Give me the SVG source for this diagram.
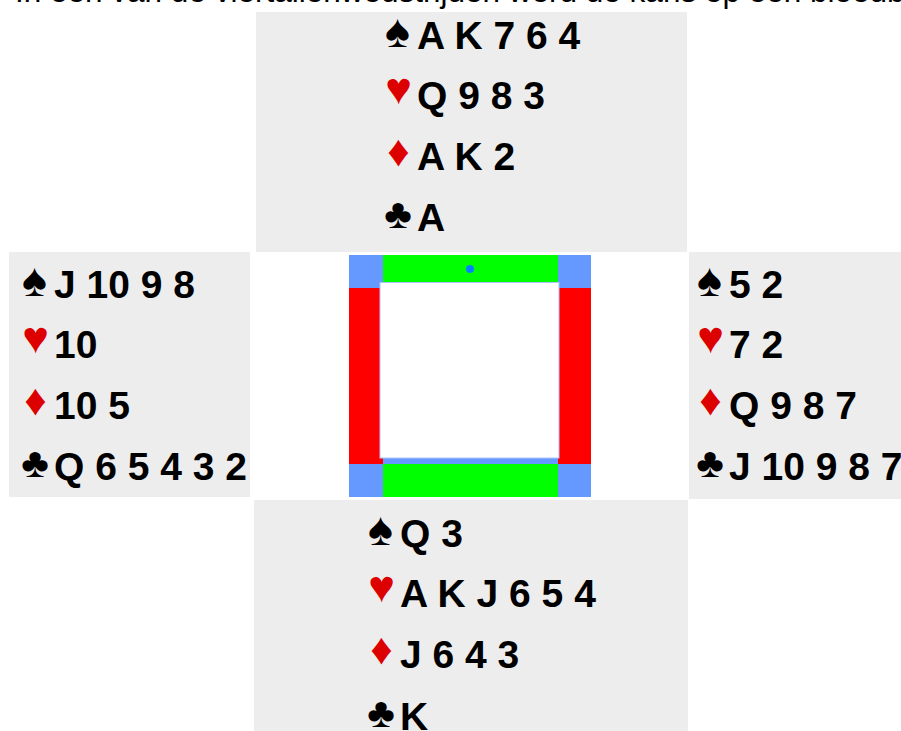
<svg xmlns="http://www.w3.org/2000/svg" width="901" height="731" viewBox="0 0 901 731">
<style>
.p{fill:#ededed}
.t{font-family:"Liberation Sans",Arial,sans-serif;font-weight:bold;font-size:39px;fill:#000}
.s{font-family:"Liberation Sans",Arial,sans-serif;text-anchor:middle}
.sp{font-size:47px}.he{font-size:45px}.di{font-size:44px}.cl{font-size:42px}
.k{fill:#000}.r{fill:#dd0000}
.b{fill:#6699ff}.g{fill:#00ff00}.d{fill:#ff0000}
</style>
<rect width="901" height="731" fill="#fff"/>
<text id="intro" x="15" y="2" font-family="Liberation Sans,Arial,sans-serif" font-size="31.5" fill="#000">In een van de viertallenwedstrijden werd de kans op een bloedb</text>
<g id="north">
<rect class="p" x="256" y="12" width="431" height="240"/>
<text class="s sp k" x="397.5" y="47">♠</text><text class="t" x="417" y="49">A K 7 6 4</text>
<text class="s he r" x="398.5" y="104">♥</text><text class="t" x="417" y="109">Q 9 8 3</text>
<text class="s di r" x="398.5" y="165.5">♦</text><text class="t" x="417" y="170">A K 2</text>
<text class="s cl k" x="398" y="227.5">♣</text><text class="t" x="417" y="231">A</text>
</g>
<g id="west">
<rect class="p" x="9" y="252" width="241" height="245"/>
<text class="s sp k" x="34.5" y="296">♠</text><text class="t" x="54" y="298">J 10 9 8</text>
<text class="s he r" x="35.5" y="353">♥</text><text class="t" x="54" y="358">10</text>
<text class="s di r" x="35.5" y="414.5">♦</text><text class="t" x="54" y="419">10 5</text>
<text class="s cl k" x="35" y="476.5">♣</text><text class="t" x="54" y="480">Q 6 5 4 3 2</text>
</g>
<g id="east">
<rect class="p" x="689" y="252" width="212" height="247"/>
<text class="s sp k" x="709.5" y="296">♠</text><text class="t" x="729" y="298">5 2</text>
<text class="s he r" x="710.5" y="353">♥</text><text class="t" x="729" y="358">7 2</text>
<text class="s di r" x="710.5" y="414.5">♦</text><text class="t" x="729" y="419">Q 9 8 7</text>
<text class="s cl k" x="710" y="476.5">♣</text><text class="t" x="729" y="480">J 10 9 8 7</text>
</g>
<g id="south">
<rect class="p" x="254" y="500" width="434" height="231"/>
<text class="s sp k" x="380.5" y="545">♠</text><text class="t" x="400" y="547">Q 3</text>
<text class="s he r" x="381.5" y="602">♥</text><text class="t" x="400" y="607">A K J 6 5 4</text>
<text class="s di r" x="381.5" y="663.5">♦</text><text class="t" x="400" y="668">J 6 4 3</text>
<text class="s cl k" x="381" y="726.5">♣</text><text class="t" x="400" y="730">K</text>
</g>
<g id="table">
<rect x="349" y="255" width="242" height="242" fill="#fff"/>
<rect class="b" x="349" y="255" width="34" height="33"/>
<rect class="b" x="558" y="255" width="33" height="33"/>
<rect class="b" x="349" y="464" width="34" height="33"/>
<rect class="b" x="558" y="464" width="33" height="33"/>
<rect class="g" x="383" y="255" width="175" height="28"/>
<rect class="g" x="383" y="464" width="175" height="33"/>
<rect class="d" x="349" y="288" width="34" height="176"/>
<rect class="d" x="558" y="288" width="33" height="176"/>
<rect class="b" x="383" y="458" width="175" height="6"/>
<rect x="380" y="282.5" width="179" height="175.5" fill="#fff" stroke="#a9c4ff" stroke-width="1"/>
<circle cx="470" cy="269" r="4" fill="#0080ff"/>
</g>
</svg>
